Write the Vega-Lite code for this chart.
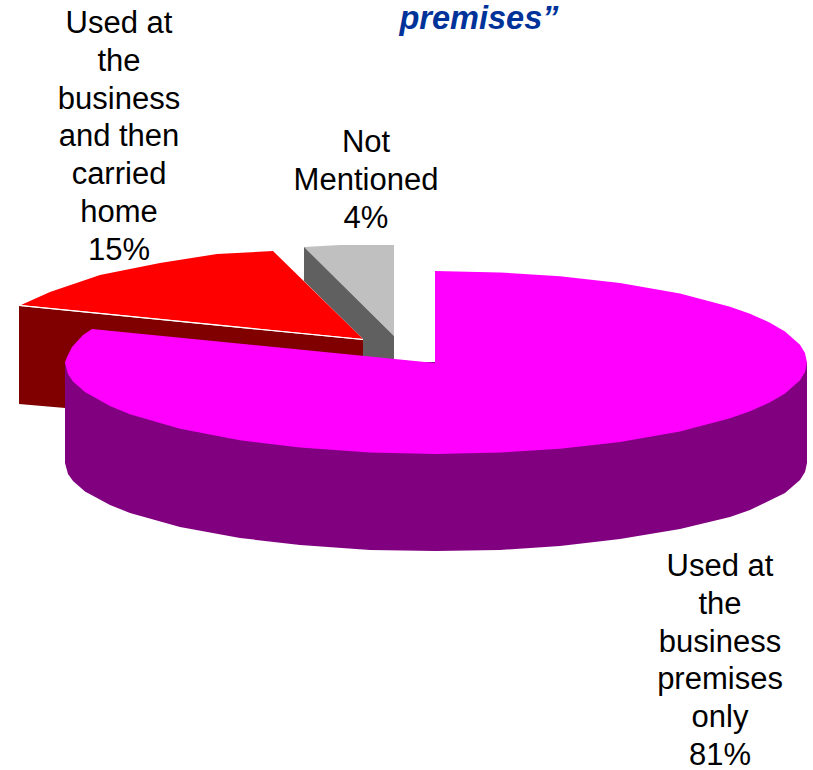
{
"$schema":"https://vega.github.io/schema/vega-lite/v6.json",
"width":813,"height":770,
"autosize":"none",
"padding":0,
"background":"white",
"config":{"view":{"stroke":null}},
"datasets":{
"slices":[
{"part":"Not Mentioned top","i":1,"x":304,"y":247},{"part":"Not Mentioned top","i":2,"x":340,"y":245},{"part":"Not Mentioned top","i":3,"x":394,"y":245},{"part":"Not Mentioned top","i":4,"x":394,"y":336},
{"part":"Not Mentioned side","i":1,"x":304,"y":247},{"part":"Not Mentioned side","i":2,"x":394,"y":336},{"part":"Not Mentioned side","i":3,"x":394,"y":366},{"part":"Not Mentioned side","i":4,"x":363,"y":366},{"part":"Not Mentioned side","i":5,"x":363,"y":339},{"part":"Not Mentioned side","i":6,"x":304,"y":281},
{"part":"Carried home side","i":1,"x":19,"y":306},{"part":"Carried home side","i":2,"x":363,"y":340},{"part":"Carried home side","i":3,"x":363,"y":380},{"part":"Carried home side","i":4,"x":100,"y":411},{"part":"Carried home side","i":5,"x":19,"y":404},
{"part":"Carried home top","i":1,"x":21,"y":305},{"part":"Carried home top","i":2,"x":50,"y":292},{"part":"Carried home top","i":3,"x":100,"y":275},{"part":"Carried home top","i":4,"x":160,"y":263},{"part":"Carried home top","i":5,"x":217,"y":254},{"part":"Carried home top","i":6,"x":273,"y":251},{"part":"Carried home top","i":7,"x":363,"y":339},
{"part":"Edge highlight","i":1,"x":20,"y":305},{"part":"Edge highlight","i":2,"x":363,"y":339},{"part":"Edge highlight","i":3,"x":363,"y":340},{"part":"Edge highlight","i":4,"x":20,"y":306},
{"part":"Premises side","i":1,"x":65,"y":362},{"part":"Premises side","i":2,"x":65,"y":463},{"part":"Premises side","i":3,"x":68,"y":474},{"part":"Premises side","i":4,"x":73,"y":481},{"part":"Premises side","i":5,"x":85,"y":491.5},{"part":"Premises side","i":6,"x":110,"y":505},{"part":"Premises side","i":7,"x":130,"y":513},{"part":"Premises side","i":8,"x":180,"y":527},{"part":"Premises side","i":9,"x":240,"y":538},{"part":"Premises side","i":10,"x":300,"y":545},{"part":"Premises side","i":11,"x":370,"y":550},{"part":"Premises side","i":12,"x":436,"y":551},{"part":"Premises side","i":13,"x":500,"y":550},{"part":"Premises side","i":14,"x":560,"y":546},{"part":"Premises side","i":15,"x":620,"y":539},{"part":"Premises side","i":16,"x":680,"y":529},{"part":"Premises side","i":17,"x":730,"y":517},{"part":"Premises side","i":18,"x":750,"y":510},{"part":"Premises side","i":19,"x":785,"y":493},{"part":"Premises side","i":20,"x":800,"y":480},{"part":"Premises side","i":21,"x":805,"y":472},{"part":"Premises side","i":22,"x":807,"y":463},{"part":"Premises side","i":23,"x":807,"y":362},
{"part":"Premises top","i":1,"x":435,"y":271},{"part":"Premises top","i":2,"x":500,"y":272.4},{"part":"Premises top","i":3,"x":560,"y":276.3},{"part":"Premises top","i":4,"x":620,"y":283.1},{"part":"Premises top","i":5,"x":680,"y":293.6},{"part":"Premises top","i":6,"x":730,"y":306.7},{"part":"Premises top","i":7,"x":750,"y":313.7},{"part":"Premises top","i":8,"x":770,"y":322.7},{"part":"Premises top","i":9,"x":785,"y":331.5},{"part":"Premises top","i":10,"x":800,"y":344.8},{"part":"Premises top","i":11,"x":805,"y":353},{"part":"Premises top","i":12,"x":807,"y":362.5},{"part":"Premises top","i":13,"x":805,"y":372},{"part":"Premises top","i":14,"x":800,"y":380.2},{"part":"Premises top","i":15,"x":785,"y":393.5},{"part":"Premises top","i":16,"x":770,"y":402.3},{"part":"Premises top","i":17,"x":750,"y":411.3},{"part":"Premises top","i":18,"x":730,"y":418.3},{"part":"Premises top","i":19,"x":680,"y":431.4},{"part":"Premises top","i":20,"x":620,"y":441.9},{"part":"Premises top","i":21,"x":560,"y":448.7},{"part":"Premises top","i":22,"x":500,"y":452.6},{"part":"Premises top","i":23,"x":436,"y":454},{"part":"Premises top","i":24,"x":370,"y":452.5},{"part":"Premises top","i":25,"x":300,"y":447.6},{"part":"Premises top","i":26,"x":240,"y":440.2},{"part":"Premises top","i":27,"x":180,"y":428.7},{"part":"Premises top","i":28,"x":130,"y":414.2},{"part":"Premises top","i":29,"x":110,"y":406},{"part":"Premises top","i":30,"x":85,"y":392},{"part":"Premises top","i":31,"x":73,"y":381.5},{"part":"Premises top","i":32,"x":68,"y":374},{"part":"Premises top","i":33,"x":65,"y":362.5},{"part":"Premises top","i":34,"x":67,"y":357},{"part":"Premises top","i":35,"x":72,"y":347},{"part":"Premises top","i":36,"x":83,"y":335},{"part":"Premises top","i":37,"x":92,"y":329},{"part":"Premises top","i":38,"x":435,"y":363}
],
"labels":[
{"label":"Used at\nthe\nbusiness\nand then\ncarried\nhome\n15%","share":15,"x":119,"y":24},
{"label":"Not\nMentioned\n4%","share":4,"x":366,"y":143},
{"label":"Used at\nthe\nbusiness\npremises\nonly\n81%","share":81,"x":720,"y":567}
],
"title":[{"label":"premises”","x":479,"y":19}]
},
"layer":[
{"data":{"name":"slices"},
 "mark":{"type":"line","filled":true,"interpolate":"linear-closed","strokeWidth":0},
 "encoding":{
  "x":{"field":"x","type":"quantitative","scale":{"domain":[0,813],"nice":false,"zero":false},"axis":null},
  "y":{"field":"y","type":"quantitative","scale":{"domain":[770,0],"nice":false,"zero":false},"axis":null},
  "order":{"field":"i","type":"quantitative"},
  "color":{"field":"part","type":"nominal","legend":null,
   "scale":{"domain":["Not Mentioned top","Not Mentioned side","Carried home side","Carried home top","Edge highlight","Premises side","Premises top"],
            "range":["#C0C0C0","#606060","#800000","#FF0000","#FFFFFF","#800080","#FF00FF"]}}
 }},
{"data":{"name":"labels"},
 "mark":{"type":"text","font":"Liberation Sans","fontSize":31,"lineHeight":37.8,"lineBreak":"\n","align":"center","baseline":"middle","color":"#000000"},
 "encoding":{
  "x":{"field":"x","type":"quantitative"},
  "y":{"field":"y","type":"quantitative"},
  "text":{"field":"label","type":"nominal"}
 }},
{"data":{"name":"title"},
 "mark":{"type":"text","font":"Liberation Sans","fontSize":32.5,"fontWeight":"bold","fontStyle":"italic","align":"center","baseline":"middle","color":"#003399"},
 "encoding":{
  "x":{"field":"x","type":"quantitative"},
  "y":{"field":"y","type":"quantitative"},
  "text":{"field":"label","type":"nominal"}
 }}
]
}
